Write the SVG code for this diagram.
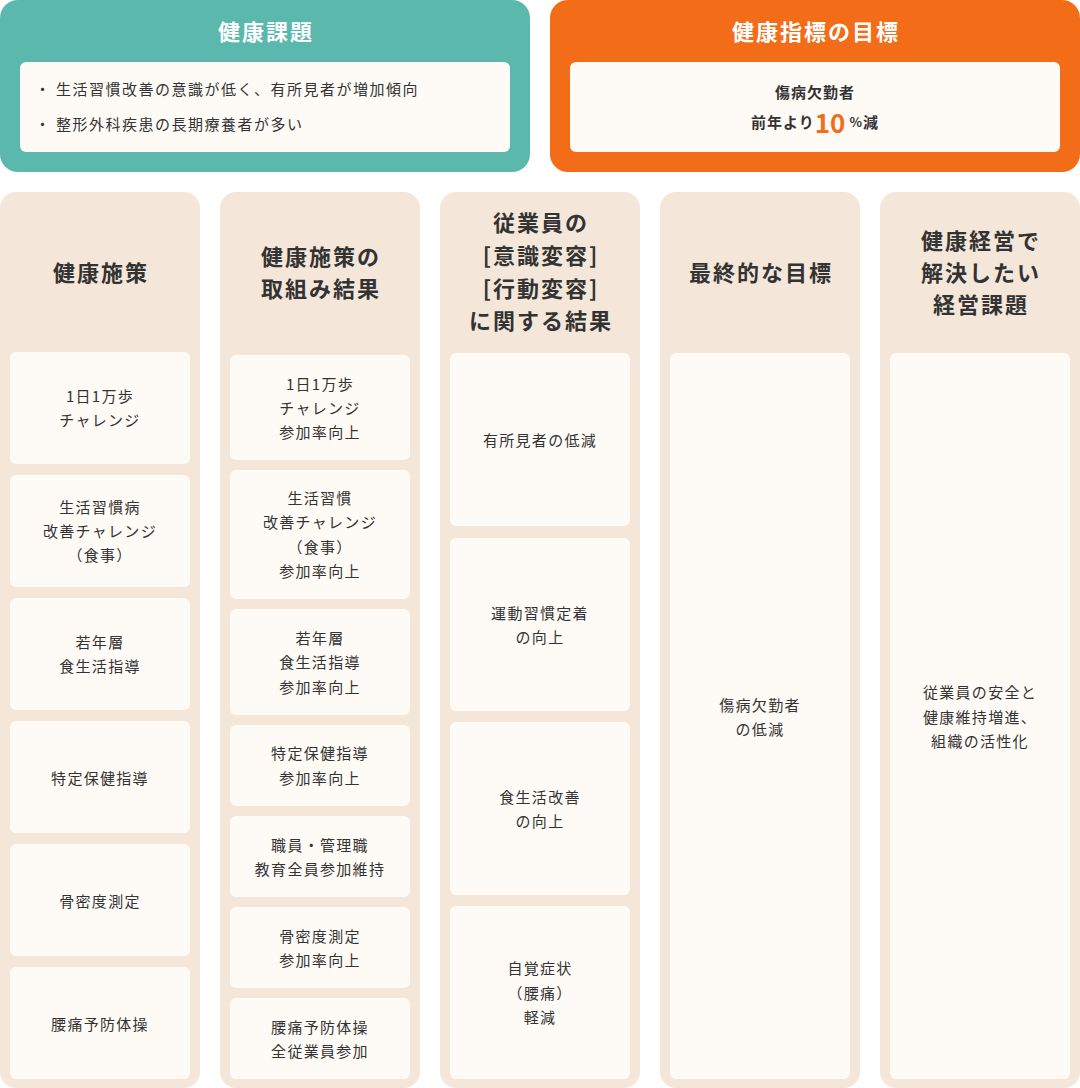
<svg xmlns="http://www.w3.org/2000/svg" width="1080" height="1088" viewBox="0 0 1080 1088">
<style>
text{font-family:"Noto Sans CJK JP","Noto Sans",sans-serif;fill:#333;text-anchor:middle;dominant-baseline:central}
.col{fill:#F4E6D8}
.box{fill:#FEFBF7}
.hd{font-size:22px;font-weight:700;letter-spacing:2px}
.tx{font-size:15px;letter-spacing:1.3px}
.tt{font-size:22px;font-weight:700;fill:#fff;letter-spacing:2px}
.bl{font-size:15px;letter-spacing:1.5px;text-anchor:start}
</style>
<rect width="1080" height="1088" fill="#fff"/>
<g id="issue">
<rect x="0" y="0" width="530" height="172" rx="18" fill="#5BB8AD"/>
<text class="tt" x="266" y="30">健康課題</text>
<rect class="box" x="20" y="62" width="490" height="90" rx="6"/>
<text class="bl" x="35" y="88">・</text>
<text class="bl" x="56" y="88">生活習慣改善の意識が低く、有所見者が増加傾向</text>
<text class="bl" x="35" y="123">・</text>
<text class="bl" x="56" y="123">整形外科疾患の長期療養者が多い</text>
</g>
<g id="target">
<rect x="550" y="0" width="530" height="172" rx="18" fill="#F36C18"/>
<text class="tt" x="816" y="30">健康指標の目標</text>
<rect class="box" x="570" y="62" width="490" height="90" rx="6"/>
<text x="815" y="91" style="font-size:15px;font-weight:700;letter-spacing:1px">傷病欠勤者</text>
<text x="815" y="121" style="font-size:15px;font-weight:700;letter-spacing:1px">前年より<tspan style="font-size:26px;fill:#F36C18;letter-spacing:0">10</tspan><tspan style="font-size:13px"> %</tspan>減</text>
</g>
<g id="col1">
<rect class="col" x="0" y="192" width="200" height="896" rx="16"/>
<text class="hd" x="101" y="271">健康施策</text>
<rect class="box" x="10" y="352" width="180" height="112" rx="6"/>
<text class="tx" x="100" y="395">1日1万歩</text><text class="tx" x="100" y="419">チャレンジ</text>
<rect class="box" x="10" y="475" width="180" height="112" rx="6"/>
<text class="tx" x="100" y="506">生活習慣病</text><text class="tx" x="100" y="530">改善チャレンジ</text><text class="tx" x="100" y="554">（食事）</text>
<rect class="box" x="10" y="598" width="180" height="112" rx="6"/>
<text class="tx" x="100" y="641">若年層</text><text class="tx" x="100" y="665">食生活指導</text>
<rect class="box" x="10" y="721" width="180" height="112" rx="6"/>
<text class="tx" x="100" y="777">特定保健指導</text>
<rect class="box" x="10" y="844" width="180" height="112" rx="6"/>
<text class="tx" x="100" y="900">骨密度測定</text>
<rect class="box" x="10" y="967" width="180" height="112" rx="6"/>
<text class="tx" x="100" y="1023">腰痛予防体操</text>
</g>
<g id="col2">
<rect class="col" x="220" y="192" width="200" height="896" rx="16"/>
<text class="hd" x="321" y="255">健康施策の</text><text class="hd" x="321" y="287">取組み結果</text>
<rect class="box" x="230" y="355" width="180" height="105" rx="6"/>
<text class="tx" x="320" y="383">1日1万歩</text><text class="tx" x="320" y="407">チャレンジ</text><text class="tx" x="320" y="431">参加率向上</text>
<rect class="box" x="230" y="470" width="180" height="129" rx="6"/>
<text class="tx" x="320" y="497">生活習慣</text><text class="tx" x="320" y="521">改善チャレンジ</text><text class="tx" x="320" y="546">（食事）</text><text class="tx" x="320" y="570">参加率向上</text>
<rect class="box" x="230" y="609" width="180" height="106" rx="6"/>
<text class="tx" x="320" y="637">若年層</text><text class="tx" x="320" y="661">食生活指導</text><text class="tx" x="320" y="686">参加率向上</text>
<rect class="box" x="230" y="725" width="180" height="81" rx="6"/>
<text class="tx" x="320" y="752">特定保健指導</text><text class="tx" x="320" y="777">参加率向上</text>
<rect class="box" x="230" y="816" width="180" height="81" rx="6"/>
<text class="tx" x="320" y="844">職員・管理職</text><text class="tx" x="320" y="868">教育全員参加維持</text>
<rect class="box" x="230" y="907" width="180" height="81" rx="6"/>
<text class="tx" x="320" y="935">骨密度測定</text><text class="tx" x="320" y="959">参加率向上</text>
<rect class="box" x="230" y="998" width="180" height="81" rx="6"/>
<text class="tx" x="320" y="1026">腰痛予防体操</text><text class="tx" x="320" y="1050">全従業員参加</text>
</g>
<g id="col3">
<rect class="col" x="440" y="192" width="200" height="896" rx="16"/>
<text class="hd" x="541" y="221">従業員の</text><text class="hd" x="541" y="254">[意識変容]</text><text class="hd" x="541" y="287">[行動変容]</text><text class="hd" x="541" y="319">に関する結果</text>
<rect class="box" x="450" y="353" width="180" height="173" rx="6"/>
<text class="tx" x="540" y="439">有所見者の低減</text>
<rect class="box" x="450" y="538" width="180" height="173" rx="6"/>
<text class="tx" x="540" y="612">運動習慣定着</text><text class="tx" x="540" y="636">の向上</text>
<rect class="box" x="450" y="722" width="180" height="173" rx="6"/>
<text class="tx" x="540" y="796">食生活改善</text><text class="tx" x="540" y="820">の向上</text>
<rect class="box" x="450" y="906" width="180" height="173" rx="6"/>
<text class="tx" x="540" y="967">自覚症状</text><text class="tx" x="540" y="992">（腰痛）</text><text class="tx" x="540" y="1016">軽減</text>
</g>
<g id="col4">
<rect class="col" x="660" y="192" width="200" height="896" rx="16"/>
<text class="hd" x="761" y="271">最終的な目標</text>
<rect class="box" x="670" y="353" width="180" height="726" rx="6"/>
<text class="tx" x="760" y="704">傷病欠勤者</text><text class="tx" x="760" y="728">の低減</text>
</g>
<g id="col5">
<rect class="col" x="880" y="192" width="200" height="896" rx="16"/>
<text class="hd" x="981" y="239">健康経営で</text><text class="hd" x="981" y="271">解決したい</text><text class="hd" x="981" y="303">経営課題</text>
<rect class="box" x="890" y="353" width="180" height="726" rx="6"/>
<text class="tx" x="980" y="691">従業員の安全と</text><text class="tx" x="980" y="716">健康維持増進、</text><text class="tx" x="980" y="740">組織の活性化</text>
</g>
<g id="connectors"></g>
</svg>
